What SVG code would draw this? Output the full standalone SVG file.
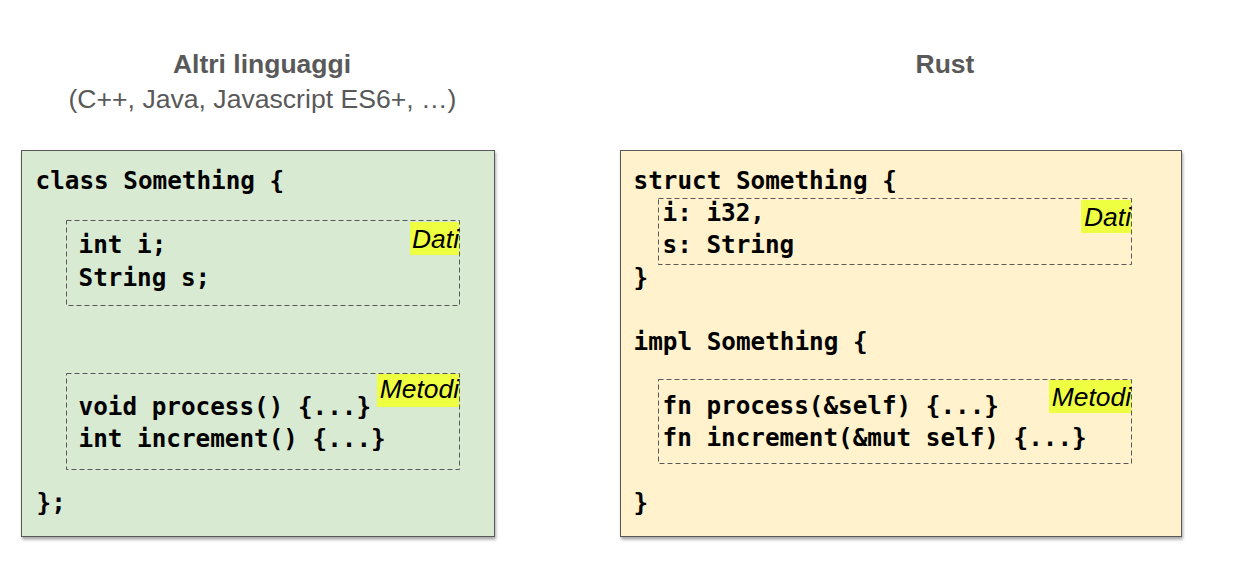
<svg xmlns="http://www.w3.org/2000/svg" width="1241" height="566" viewBox="0 0 1241 566">
<defs>
<filter id="sh" x="-5%" y="-5%" width="110%" height="112%">
<feDropShadow dx="1" dy="2.5" stdDeviation="1.8" flood-color="#000" flood-opacity="0.35"/>
</filter>
<style>
.title{font-family:"Liberation Sans",Arial,sans-serif;font-size:26.5px;font-weight:bold;fill:#595959;text-anchor:middle}
.sub{font-family:"Liberation Sans",Arial,sans-serif;font-size:26.6px;fill:#595959;text-anchor:middle}
.code{font-family:"DejaVu Sans Mono",monospace;font-size:24.3px;font-weight:bold;fill:#000}
.lbl{font-family:"Liberation Sans",Arial,sans-serif;font-size:26.4px;font-style:italic;fill:#000;text-anchor:end}
.dash{fill:none;stroke:#595959;stroke-width:1;stroke-dasharray:5 3}
.hl{fill:#eeff41}
.box{stroke:#595959;stroke-width:1}
</style>
</defs>
<rect width="1241" height="566" fill="#fff"/>
<g id="title-left">
<text class="title" x="262" y="73">Altri linguaggi</text>
<text class="sub" x="262.5" y="108">(C++, Java, Javascript ES6+, …)</text>
</g>
<g id="title-right">
<text class="title" x="945" y="73">Rust</text>
</g>
<g id="box-left">
<rect class="box" x="21.5" y="150.5" width="473" height="386" fill="#d9ead3" filter="url(#sh)"/>
<text class="code" x="35.5" y="189">class Something {</text>
<rect class="dash" x="66.5" y="220.5" width="393" height="85"/>
<rect class="hl" x="410" y="222" width="49" height="33"/>
<text class="lbl" x="459" y="248">Dati</text>
<text class="code" x="78.5" y="253">int i;</text>
<text class="code" x="78.5" y="286">String s;</text>
<rect class="dash" x="66.5" y="373.5" width="393" height="96"/>
<rect class="hl" x="377" y="374" width="82" height="33"/>
<text class="lbl" x="459" y="398">Metodi</text>
<text class="code" x="78.5" y="415">void process() {...}</text>
<text class="code" x="78.5" y="447">int increment() {...}</text>
<text class="code" x="36.5" y="511">};</text>
</g>
<g id="box-right">
<rect class="box" x="620.5" y="150.5" width="561" height="386" fill="#fff2cc" filter="url(#sh)"/>
<text class="code" x="633.5" y="189">struct Something {</text>
<rect class="dash" x="658.5" y="198.5" width="473" height="66"/>
<rect class="hl" x="1081" y="200" width="50" height="33"/>
<text class="lbl" x="1131" y="226">Dati</text>
<text class="code" x="662.5" y="221">i: i32,</text>
<text class="code" x="662.5" y="253">s: String</text>
<text class="code" x="633.5" y="286">}</text>
<text class="code" x="633.5" y="350">impl Something {</text>
<rect class="dash" x="658.5" y="379.5" width="473" height="84"/>
<rect class="hl" x="1049" y="380" width="82" height="33"/>
<text class="lbl" x="1131" y="406">Metodi</text>
<text class="code" x="662.5" y="414">fn process(&amp;self) {...}</text>
<text class="code" x="662.5" y="446">fn increment(&amp;mut self) {...}</text>
<text class="code" x="633.5" y="511">}</text>
</g>
<g id="connectors"/>
</svg>
